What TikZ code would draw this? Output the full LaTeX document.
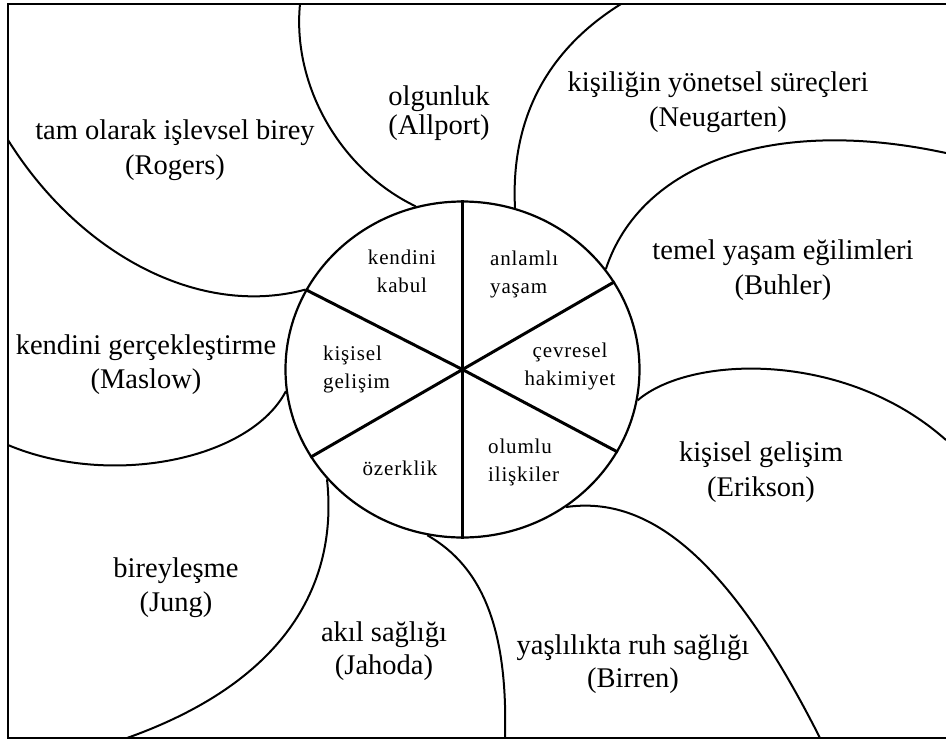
\documentclass[tikz,border=0pt]{standalone}
\usepackage{fontspec}
\setmainfont{Liberation Serif}
\newfontfamily\innerfont[LetterSpace=4]{Liberation Serif}
\usetikzlibrary{shapes.geometric}
\tikzset{
  petal/.style={line width=2pt, draw=black},
  spoke/.style={line width=3pt, draw=black},
  frame/.style={line width=2pt, line join=miter, draw=black},
  hubstyle/.style={ellipse, draw=black, line width=2.2pt, minimum width=354pt, minimum height=336pt, inner sep=0pt},
  outer/.style={font=\fontsize{28.5}{35}\selectfont, align=center, inner sep=0pt, anchor=north},
  innerlbl/.style={font=\innerfont\fontsize{21}{28.5}\selectfont, inner sep=0pt},
}
\begin{document}
\begin{tikzpicture}[x=1pt,y=-1pt]
\useasboundingbox (0,0) rectangle (946,740);
% frame (open on the right)
\coordinate (TL) at (8,4);
\coordinate (TR) at (946,4);
\coordinate (BL) at (8,738);
\coordinate (BR) at (946,738);
\draw[frame] (TR) -- (TL) -- (BL) -- (BR);

% central circle
\node[hubstyle] (hub) at (462.5,369.5) {};

% petal boundaries
\coordinate (e1) at (300,4);
\coordinate (e2) at (8,140);
\coordinate (e3) at (621,4);
\coordinate (e4) at (946,153);
\coordinate (e5) at (946,440);
\coordinate (e6) at (820,738);
\coordinate (e7) at (505,738);
\coordinate (e8) at (127,738);
\coordinate (e9) at (8,445);
\draw[petal] (hub.106) .. controls (340,170) and (292,85) .. (e1);
\draw[petal] (hub.153) .. controls (200,318) and (80,255) .. (e2);
\draw[petal] (hub.72) .. controls (510,110) and (555,45) .. (e3);
\draw[petal] (hub.35) .. controls (640,165) and (770,115) .. (e4);
\draw[petal] (hub.350) .. controls (690,355) and (845,350) .. (e5);
\draw[petal] (hub.307) .. controls (650,495) and (730,560) .. (e6);
\draw[petal] (hub.258) .. controls (483,567) and (508,630) .. (e7);
\draw[petal] (hub.219) .. controls (338,580) and (290,680) .. (e8);
\draw[petal] (hub.187) .. controls (250,460) and (110,488) .. (e9);

% spokes
\draw[spoke] (hub.90) -- (hub.270);
\draw[spoke] (hub.center) -- (hub.153);
\draw[spoke] (hub.center) -- (hub.30);
\draw[spoke] (hub.center) -- (hub.210);
\draw[spoke] (hub.center) -- (hub.332);

% outer labels
\node[outer] (rogers) at (175,120) {tam olarak işlevsel birey\\(Rogers)};
\node[outer, font=\fontsize{28.5}{29}\selectfont] (allport) at (439,86) {olgunluk\\(Allport)};
\node[outer] (neugarten) at (718,72) {kişiliğin yönetsel süreçleri\\(Neugarten)};
\node[outer] (buhler) at (783,240) {temel yaşam eğilimleri\\(Buhler)};
\node[outer, font=\fontsize{28.5}{34}\selectfont] (maslow) at (146,335) {kendini gerçekleştirme\\(Maslow)};
\node[outer, font=\fontsize{28.5}{34}\selectfont] (jung) at (176,558) {bireyleşme\\(Jung)};
\node[outer, font=\fontsize{28.5}{33}\selectfont] (jahoda) at (384,622) {akıl sağlığı\\(Jahoda)};
\node[outer] (erikson) at (761,442) {kişisel gelişim\\(Erikson)};
\node[outer, font=\fontsize{28.5}{33}\selectfont] (birren) at (633,635) {yaşlılıkta ruh sağlığı\\(Birren)};

% inner labels
\node[innerlbl, align=center, anchor=north] (kabul) at (402,249.5) {kendini\\kabul};
\node[innerlbl, align=left, anchor=north west] (anlam) at (490,250.5) {anlamlı\\yaşam};
\node[innerlbl, align=left, anchor=north west] (gelisim) at (323,345.5) {kişisel\\gelişim};
\node[innerlbl, align=center, anchor=north] (cevre) at (570,342.5) {çevresel\\hakimiyet};
\node[innerlbl, anchor=base] (ozerk) at (400,475) {özerklik};
\node[innerlbl, align=left, anchor=north west] (olumlu) at (488,438.5) {olumlu\\ilişkiler};
\end{tikzpicture}
\end{document}
